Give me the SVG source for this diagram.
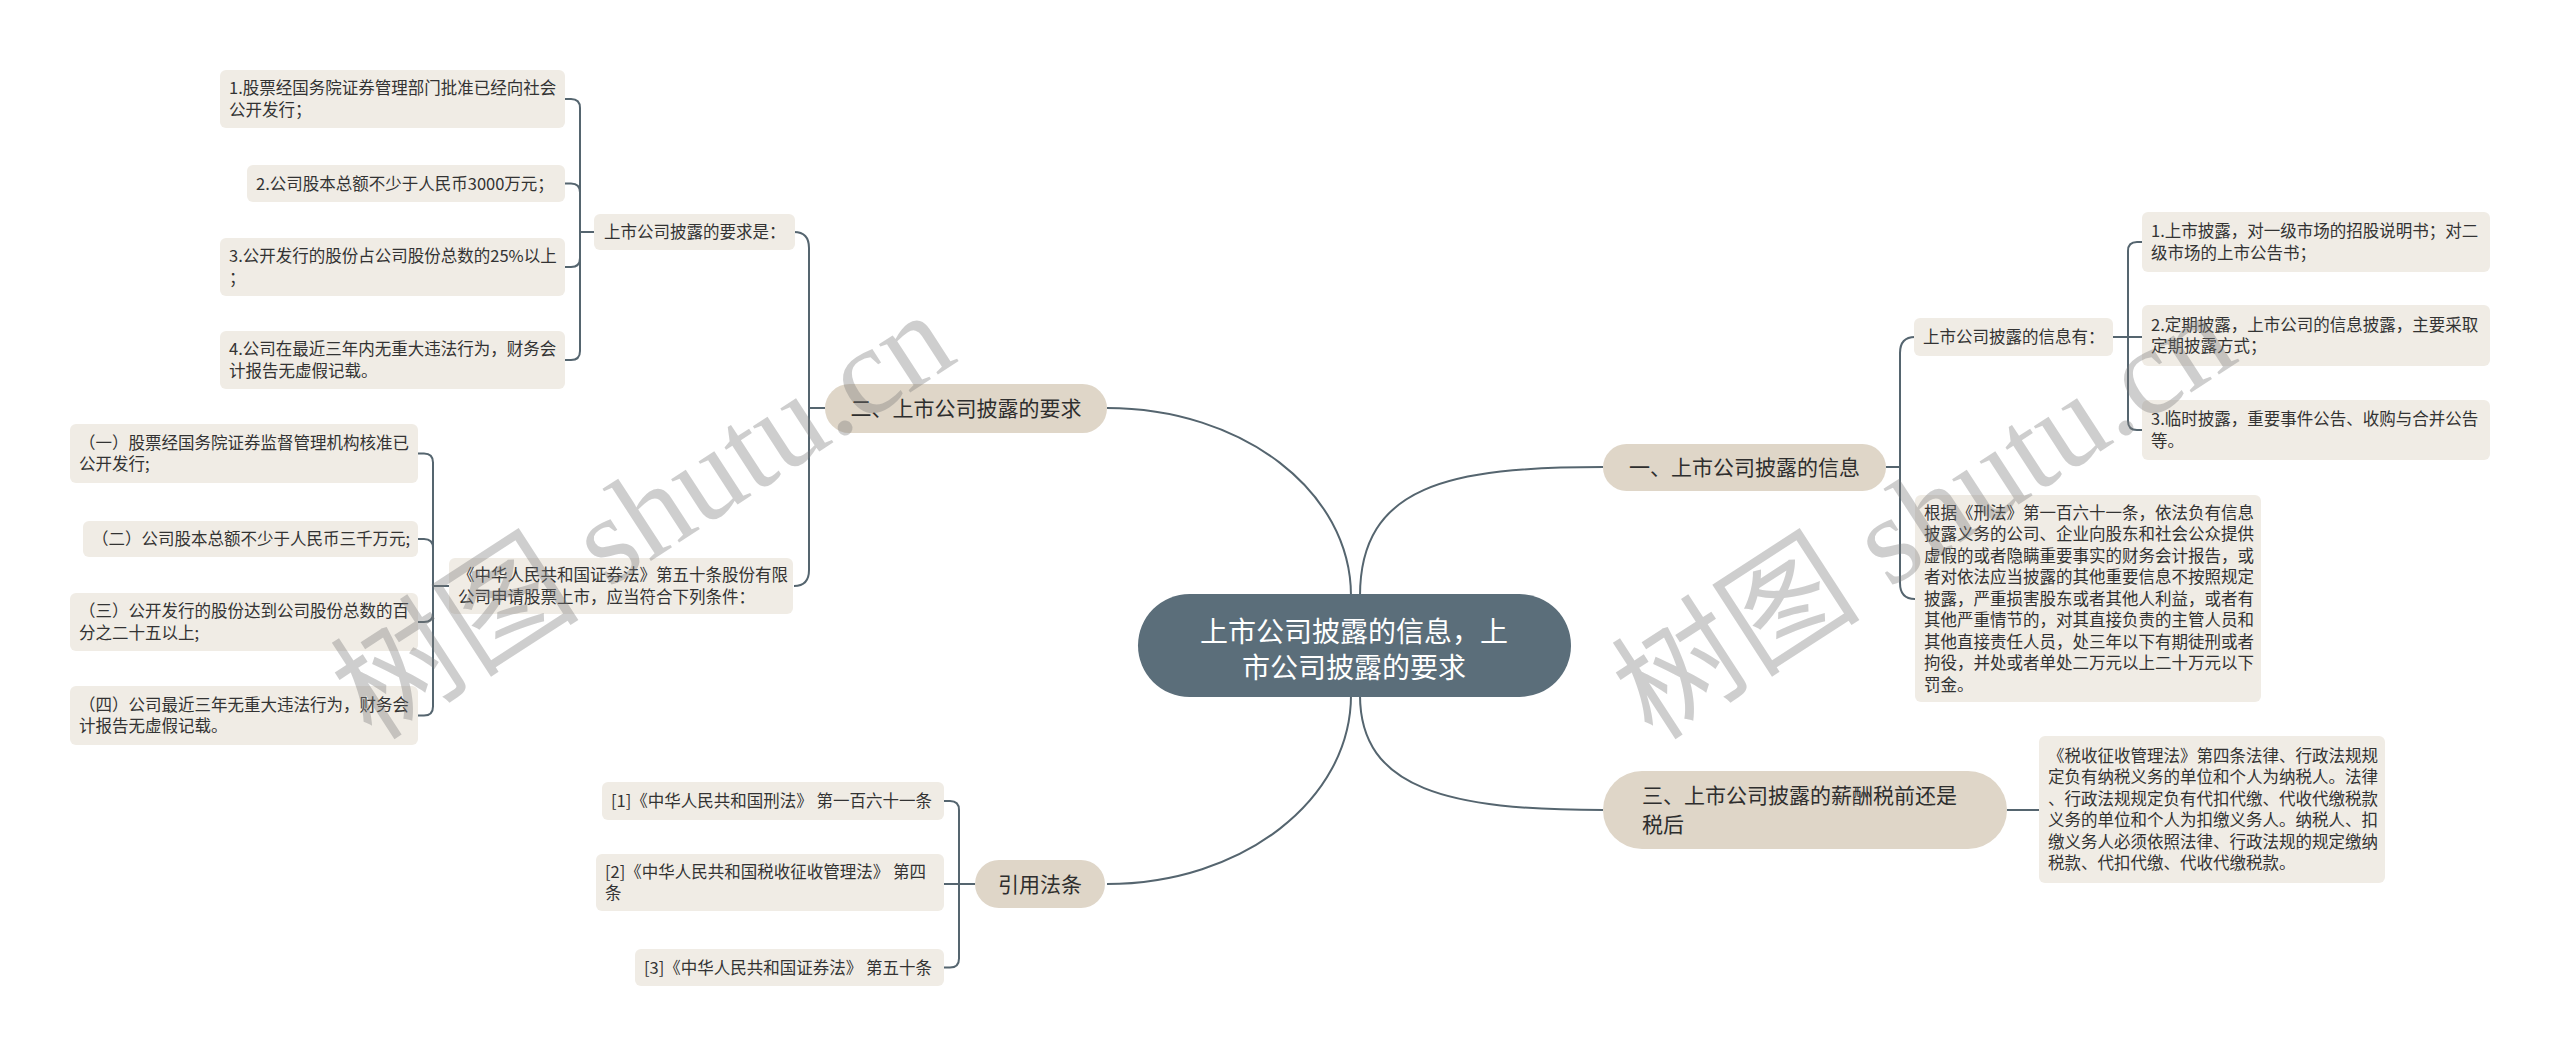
<svg xmlns="http://www.w3.org/2000/svg" width="2560" height="1057" viewBox="0 0 2560 1057">
<style>
.bg{fill:#ffffff}
.leaf{fill:#f0ece5}
.branch{fill:#dfd6c8}
.center{fill:#5b6e7a}
.t{font-family:"Noto Sans CJK SC","Noto Sans",sans-serif;font-size:16.5px;fill:#333333}
.bt{font-family:"Noto Sans CJK SC","Noto Sans",sans-serif;font-size:21px;fill:#2e2e2e}
.ct{font-family:"Noto Sans CJK SC","Noto Sans",sans-serif;font-size:28px;fill:#ffffff}
.conn{fill:none;stroke:#55656f;stroke-width:2}
.wm{font-family:"Liberation Serif","Noto Sans CJK SC",serif;font-size:125px;fill:#7a7a7a;opacity:0.36}
</style>
<rect class="bg" x="0" y="0" width="2560" height="1057"/>

<g id="connectors">
  <path class="conn" d="M1351,596 C1351,491 1242,408 1107,408"/>
  <path class="conn" d="M1360,596 C1360,485 1450,467 1603,467"/>
  <path class="conn" d="M1360,695 C1360,790 1450,810 1603,810"/>
  <path class="conn" d="M1351,695 C1351,800 1242,884 1107,884"/>
  <path class="conn" d="M825,408 H809 V248 Q809,232 794,232"/>
  <path class="conn" d="M825,408 H809 V570 Q809,586 794,586"/>
  <path class="conn" d="M594,232 H580 V108 Q580,99 571,99 H565"/>
  <path class="conn" d="M594,232 H580 V192.5 Q580,183.5 571,183.5 H565"/>
  <path class="conn" d="M594,232 H580 V258 Q580,267 571,267 H565"/>
  <path class="conn" d="M594,232 H580 V351 Q580,360 571,360 H565"/>
  <path class="conn" d="M449,586 H433 V462.5 Q433,453.5 424,453.5 H418"/>
  <path class="conn" d="M449,586 H433 V548 Q433,539 424,539 H418"/>
  <path class="conn" d="M449,586 H433 V613 Q433,622 424,622 H418"/>
  <path class="conn" d="M449,586 H433 V706.5 Q433,715.5 424,715.5 H418"/>
  <path class="conn" d="M975,884 H959 V810 Q959,801 950,801 H944"/>
  <path class="conn" d="M975,884 H944"/>
  <path class="conn" d="M975,884 H959 V958.5 Q959,967.5 950,967.5 H944"/>
  <path class="conn" d="M1886,467 H1900 V353 Q1900,337 1915,337"/>
  <path class="conn" d="M1886,467 H1900 V583 Q1900,599 1915,599"/>
  <path class="conn" d="M2113,337 H2128 V251 Q2128,242 2137,242 H2142"/>
  <path class="conn" d="M2113,337 H2142"/>
  <path class="conn" d="M2113,337 H2128 V421 Q2128,430 2137,430 H2142"/>
  <path class="conn" d="M2007,810 H2039"/>
</g>

<g id="center-node">
  <rect class="center" x="1138" y="594" width="433" height="103" rx="51.5"/>
  <text class="ct" x="1354" y="642" text-anchor="middle">上市公司披露的信息，上</text>
  <text class="ct" x="1354" y="678" text-anchor="middle">市公司披露的要求</text>
</g>

<g id="branch-2">
  <rect class="branch" x="825" y="384" width="282" height="49" rx="24.5"/>
  <text class="bt" x="966" y="416" text-anchor="middle">二、上市公司披露的要求</text>
</g>
<g id="sub-a1">
  <rect class="leaf" x="594" y="214" width="201" height="36" rx="6"/>
  <text class="t" x="604" y="238">上市公司披露的要求是：</text>
</g>
<g id="leaf-a1-1">
  <rect class="leaf" x="220" y="70" width="345" height="58" rx="6"/>
  <text class="t"><tspan x="229" y="94.25">1.股票经国务院证券管理部门批准已经向社会</tspan><tspan x="229" y="115.75">公开发行；</tspan></text>
</g>
<g id="leaf-a1-2">
  <rect class="leaf" x="247" y="165" width="318" height="37" rx="6"/>
  <text class="t" x="256" y="189.5">2.公司股本总额不少于人民币3000万元；</text>
</g>
<g id="leaf-a1-3">
  <rect class="leaf" x="220" y="238" width="345" height="58" rx="6"/>
  <text class="t"><tspan x="229" y="262.25">3.公开发行的股份占公司股份总数的25%以上</tspan><tspan x="229" y="283.75">；</tspan></text>
</g>
<g id="leaf-a1-4">
  <rect class="leaf" x="220" y="331" width="345" height="58" rx="6"/>
  <text class="t"><tspan x="229" y="355.25">4.公司在最近三年内无重大违法行为，财务会</tspan><tspan x="229" y="376.75">计报告无虚假记载。</tspan></text>
</g>
<g id="sub-a2">
  <rect class="leaf" x="449" y="558" width="344" height="56" rx="6"/>
  <text class="t"><tspan x="458" y="581.25">《中华人民共和国证券法》第五十条股份有限</tspan><tspan x="458" y="602.75">公司申请股票上市，应当符合下列条件：</tspan></text>
</g>
<g id="leaf-a2-1">
  <rect class="leaf" x="70" y="424" width="348" height="59" rx="6"/>
  <text class="t"><tspan x="79" y="448.75">（一）股票经国务院证券监督管理机构核准已</tspan><tspan x="79" y="470.25">公开发行;</tspan></text>
</g>
<g id="leaf-a2-2">
  <rect class="leaf" x="83" y="521" width="335" height="36" rx="6"/>
  <text class="t" x="92" y="545">（二）公司股本总额不少于人民币三千万元;</text>
</g>
<g id="leaf-a2-3">
  <rect class="leaf" x="70" y="593" width="348" height="58" rx="6"/>
  <text class="t"><tspan x="79" y="617.25">（三）公开发行的股份达到公司股份总数的百</tspan><tspan x="79" y="638.75">分之二十五以上;</tspan></text>
</g>
<g id="leaf-a2-4">
  <rect class="leaf" x="70" y="686" width="348" height="59" rx="6"/>
  <text class="t"><tspan x="79" y="710.75">（四）公司最近三年无重大违法行为，财务会</tspan><tspan x="79" y="732.25">计报告无虚假记载。</tspan></text>
</g>

<g id="branch-refs">
  <rect class="branch" x="975" y="860" width="130" height="48" rx="24"/>
  <text class="bt" x="1040" y="891.5" text-anchor="middle">引用法条</text>
</g>
<g id="ref-1">
  <rect class="leaf" x="602" y="782" width="342" height="38" rx="6"/>
  <text class="t" x="611" y="807">[1]《中华人民共和国刑法》 第一百六十一条</text>
</g>
<g id="ref-2">
  <rect class="leaf" x="596" y="854" width="348" height="57" rx="6"/>
  <text class="t"><tspan x="605" y="877.75">[2]《中华人民共和国税收征收管理法》 第四</tspan><tspan x="605" y="899.25">条</tspan></text>
</g>
<g id="ref-3">
  <rect class="leaf" x="635" y="949" width="309" height="37" rx="6"/>
  <text class="t" x="644" y="973.5">[3]《中华人民共和国证券法》 第五十条</text>
</g>

<g id="branch-1">
  <rect class="branch" x="1603" y="444" width="283" height="47" rx="23.5"/>
  <text class="bt" x="1744.5" y="475" text-anchor="middle">一、上市公司披露的信息</text>
</g>
<g id="sub-b1">
  <rect class="leaf" x="1914" y="318" width="199" height="38" rx="6"/>
  <text class="t" x="1923" y="343">上市公司披露的信息有：</text>
</g>
<g id="leaf-b1-1">
  <rect class="leaf" x="2142" y="212" width="348" height="60" rx="6"/>
  <text class="t"><tspan x="2151" y="237.25">1.上市披露，对一级市场的招股说明书；对二</tspan><tspan x="2151" y="258.75">级市场的上市公告书；</tspan></text>
</g>
<g id="leaf-b1-2">
  <rect class="leaf" x="2142" y="305" width="348" height="61" rx="6"/>
  <text class="t"><tspan x="2151" y="330.75">2.定期披露，上市公司的信息披露，主要采取</tspan><tspan x="2151" y="352.25">定期披露方式；</tspan></text>
</g>
<g id="leaf-b1-3">
  <rect class="leaf" x="2142" y="400" width="348" height="60" rx="6"/>
  <text class="t"><tspan x="2151" y="425.25">3.临时披露，重要事件公告、收购与合并公告</tspan><tspan x="2151" y="446.75">等。</tspan></text>
</g>
<g id="leaf-b1-4">
  <rect class="leaf" x="1915" y="495" width="346" height="207" rx="6"/>
  <text class="t"><tspan x="1924" y="518.5">根据《刑法》第一百六十一条，依法负有信息</tspan><tspan x="1924" y="540">披露义务的公司、企业向股东和社会公众提供</tspan><tspan x="1924" y="561.5">虚假的或者隐瞒重要事实的财务会计报告，或</tspan><tspan x="1924" y="583">者对依法应当披露的其他重要信息不按照规定</tspan><tspan x="1924" y="604.5">披露，严重损害股东或者其他人利益，或者有</tspan><tspan x="1924" y="626">其他严重情节的，对其直接负责的主管人员和</tspan><tspan x="1924" y="647.5">其他直接责任人员，处三年以下有期徒刑或者</tspan><tspan x="1924" y="669">拘役，并处或者单处二万元以上二十万元以下</tspan><tspan x="1924" y="690.5">罚金。</tspan></text>
</g>

<g id="branch-3">
  <rect class="branch" x="1603" y="771" width="404" height="78" rx="39"/>
  <text class="bt"><tspan x="1642" y="803">三、上市公司披露的薪酬税前还是</tspan><tspan x="1642" y="832">税后</tspan></text>
</g>
<g id="leaf-c1">
  <rect class="leaf" x="2039" y="736" width="346" height="147" rx="6"/>
  <text class="t"><tspan x="2048" y="761.75">《税收征收管理法》第四条法律、行政法规规</tspan><tspan x="2048" y="783.25">定负有纳税义务的单位和个人为纳税人。法律</tspan><tspan x="2048" y="804.75">、行政法规规定负有代扣代缴、代收代缴税款</tspan><tspan x="2048" y="826.25">义务的单位和个人为扣缴义务人。纳税人、扣</tspan><tspan x="2048" y="847.75">缴义务人必须依照法律、行政法规的规定缴纳</tspan><tspan x="2048" y="869.25">税款、代扣代缴、代收代缴税款。</tspan></text>
</g>

<g id="watermarks">
  <text class="wm" x="372" y="742" transform="rotate(-33 372 742)">树图 shutu.cn</text>
  <text class="wm" x="1653" y="742" transform="rotate(-33 1653 742)">树图 shutu.cn</text>
</g>
</svg>
